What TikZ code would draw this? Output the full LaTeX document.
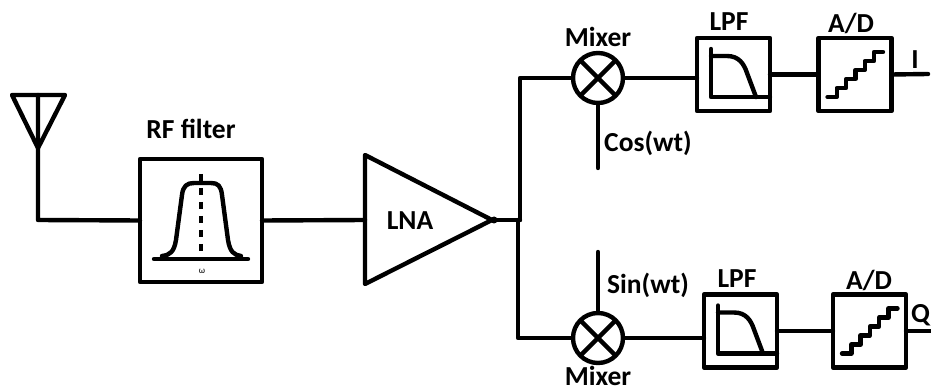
\documentclass[tikz,border=0pt]{standalone}
\usepackage{fontspec}
\setmainfont{Carlito}
\usepackage{tikz}
\usetikzlibrary{positioning, arrows.meta}

\begin{document}
\begin{tikzpicture}[
    x=1pt, y=-1pt,
    wire_style/.style={line width=4.4pt, line cap=round, line join=round},
    box_style/.style={draw, rectangle, line width=4.4pt, line join=round, outer sep=0pt, minimum width=73pt, minimum height=73pt},
    mixer_style/.style={draw, circle, line width=4.4pt, outer sep=0pt, minimum size=50pt, inner sep=0pt},
    text_style/.style={font=\fontsize{27.5}{30}\selectfont\bfseries, inner sep=0pt}
]
    \useasboundingbox (0,0) rectangle (931,387);

    % Coordinates
    \coordinate (ant_l) at (12,95);
    \coordinate (ant_r) at (65,95);
    \coordinate (ant_tip) at (38,148);
    \coordinate (ant_top) at (38,95);
    \coordinate (ant_foot) at (38,220);
    \coordinate (lna_top) at (365,155);
    \coordinate (lna_bot) at (365,284);
    \coordinate (lna_tip) at (492,220);
    \coordinate (lna_in) at (365,220);
    \coordinate (split_i) at (520,220);
    \coordinate (split_q) at (518,220);
    \coordinate (corner_i) at (520,78);
    \coordinate (corner_q) at (518,338);
    \coordinate (cos_end) at (598,168);
    \coordinate (sin_end) at (598,252);
    \coordinate (i_end) at (928,74);
    \coordinate (q_end) at (935,331);

    % Blocks
    \node[box_style, minimum width=122pt, minimum height=123pt] (rf) at (201,220.5) {};
    \node[mixer_style] (mix_i) at (598,78) {};
    \node[mixer_style] (mix_q) at (598,338) {};
    \node[box_style] (lpf_i) at (733.5,74.5) {};
    \node[box_style] (adc_i) at (855,74.5) {};
    \node[box_style] (lpf_q) at (740.5,331) {};
    \node[box_style] (adc_q) at (869.5,331) {};

    % Antenna and amplifier
    \draw[wire_style] (ant_l) -- (ant_r) -- (ant_tip) -- cycle;
    \draw[wire_style] (ant_top) -- (ant_foot) -- (rf.west);
    \draw[wire_style] (lna_top) -- (lna_bot) -- (lna_tip) -- cycle;
    \fill (494,220) circle (3.5pt);

    % Connectors
    \draw[wire_style] (rf.east) -- (lna_in);
    \draw[wire_style] (lna_tip) -- (split_i);
    \draw[wire_style] (split_i) -- (corner_i) -- (mix_i.west);
    \draw[wire_style] (split_q) -- (corner_q) -- (mix_q.west);
    \draw[wire_style] (mix_i.south) -- (cos_end);
    \draw[wire_style] (mix_q.north) -- (sin_end);
    \draw[wire_style] (mix_i.east) -- (mix_i.east -| lpf_i.west);
    \draw[wire_style] (mix_q.east) -- (mix_q.east -| lpf_q.west);
    \draw[wire_style] (lpf_i.east) -- (adc_i.west);
    \draw[wire_style] (lpf_q.east) -- (adc_q.west);
    \draw[wire_style] (adc_i.east) -- (i_end);
    \draw[wire_style] (adc_q.east) -- (q_end);

    % Mixer crosses
    \foreach \m in {mix_i, mix_q} {
        \draw[wire_style, line cap=butt] (\m.45) -- (\m.225);
        \draw[wire_style, line cap=butt] (\m.135) -- (\m.315);
    }

    % RF filter response
    \draw[wire_style] (154,259) -- (248,259);
    \draw[wire_style] (162,256) .. controls (170,255) and (174,252) .. (176,240)
        -- (182,195) .. controls (183,186) and (187,183) .. (194,183) -- (211,183)
        .. controls (218,183) and (221,186) .. (222,195) -- (228,240)
        .. controls (230,252) and (234,255) .. (241,256);
    \draw[line width=4.4pt, dash pattern=on 7pt off 7pt] (201,174) -- (201,259);

    % LPF and A/D icons
    \foreach \b in {lpf_i, lpf_q} {
        \draw[wire_style] ([shift={(14,11)}]\b.north west) -- ([shift={(14,59)}]\b.north west) -- ([shift={(73,59)}]\b.north west);
        \draw[wire_style] ([shift={(14,18)}]\b.north west) -- ([shift={(30,18)}]\b.north west)
            .. controls ([shift={(42,18)}]\b.north west) and ([shift={(47,26)}]\b.north west) .. ([shift={(50,35)}]\b.north west)
            -- ([shift={(59,59)}]\b.north west);
    }
    \foreach \b in {adc_i, adc_q} {
        \draw[wire_style] ([shift={(9,59)}]\b.north west)
            \foreach \i in {1,...,5} { -- ++(9.3,0) -- ++(0,-9) } -- ++(9,0);
    }

    % Labels
    \node[text_style] (rf_label) at (191,129) {RF filter};
    \node[font=\fontsize{9}{10}\selectfont, inner sep=0pt] (rf_omega) at (202,271) {ω};
    \node[text_style] (lna_label) at (410,221) {LNA};
    \node[text_style] (mix_i_label) at (598,37) {Mixer};
    \node[text_style] (mix_q_label) at (598,376) {Mixer};
    \node[text_style] (lpf_i_label) at (729,22) {LPF};
    \node[text_style] (adc_i_label) at (851,23) {A/D};
    \node[text_style] (lpf_q_label) at (737,279) {LPF};
    \node[text_style] (adc_q_label) at (869,280) {A/D};
    \node[text_style, anchor=west] (cos_label) at (604,143) {Cos(wt)};
    \node[text_style, anchor=west] (sin_label) at (607,285) {Sin(wt)};
    \node[text_style] (i_label) at (915,60) {I};
    \node[text_style, anchor=west] (q_label) at (911,315) {Q};
\end{tikzpicture}
\end{document}
